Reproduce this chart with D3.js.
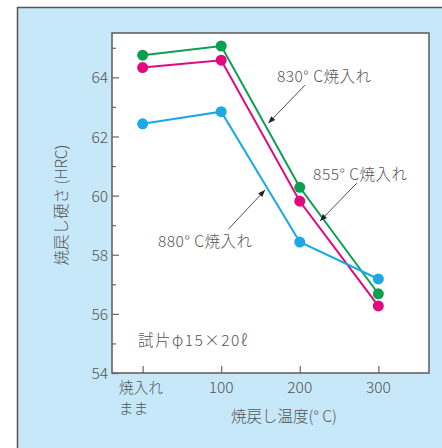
<!DOCTYPE html>
<html>
<head>
<meta charset="utf-8">
<script src="https://cdn.jsdelivr.net/npm/d3@7"></script>
<style>
  html, body { margin: 0; padding: 0; background: #ffffff; }
  svg { display: block; }
  text { font-family: "Noto Sans CJK JP", "Noto Sans", sans-serif; fill: #555; font-weight: 300; }
</style>
</head>
<body>
<svg id="chart" width="442" height="448"></svg>
<script>
// Tempering temperature categories (index positions on the x axis)
const categories = ["焼入れ\nまま", "100", "200", "300"];
const yTicks = [54, 56, 58, 60, 62, 64];
const yMinorTicks = [55, 57, 59, 61, 63, 65];

// Hardness after tempering (HRC) for each quenching temperature
const series830 = [64.75, 65.06, 60.28, 56.68];
const series855 = [64.33, 64.58, 59.81, 56.27];
const series880 = [62.43, 62.84, 58.43, 57.18];

const seriesNames = ["830° C焼入れ", "855° C焼入れ", "880° C焼入れ"];
const seriesColors = ["#0b9f4f", "#e4087f", "#1aa9e5"];

// Callout labels, placed in data units: [textX, textY, arrowFromX, arrowFromY, arrowToX, arrowToY]
const callouts = [
  [1.71, 63.84, 2.067, 63.74, 1.60, 62.45],
  [2.17, 60.53, 2.725, 60.42, 2.258, 59.14],
  [0.196, 58.26, 1.09, 58.86, 1.558, 60.19]
];
const specimenNote = "試片φ15×20ℓ";
const specimenPos = [-0.06, 54.91];

const xTitle = "焼戻し温度(° C)";
const yTitle = "焼戻し硬さ (HRC)";

const svg = d3.select("#chart");

// Outer panel
svg.append("rect")
  .attr("x", 17.5).attr("y", 7.5)
  .attr("width", 430).attr("height", 450)
  .attr("fill", "#c6e8f8")
  .attr("stroke", "#555").attr("stroke-width", 1.5);

const plot = { left: 112, top: 33, right: 429, bottom: 373 };

const x = d3.scaleLinear().domain([-0.39, 3.645]).range([plot.left, plot.right]);
const y = d3.scaleLinear().domain([54, 65.5]).range([plot.bottom, plot.top]);

// Plot area
svg.append("rect")
  .attr("x", plot.left).attr("y", plot.top)
  .attr("width", plot.right - plot.left).attr("height", plot.bottom - plot.top)
  .attr("fill", "#ffffff")
  .attr("stroke", "#5a5a5a").attr("stroke-width", 1.5);

// Y axis: major ticks with labels, inward
const yAxis = d3.axisLeft(y).tickValues(yTicks).tickSize(-7).tickPadding(11).tickFormat(d3.format("d"));
const gy = svg.append("g").attr("transform", `translate(${plot.left},0)`).call(yAxis);
gy.select(".domain").remove();
gy.selectAll(".tick line").attr("stroke", "#666").attr("stroke-width", 1.2);
gy.selectAll(".tick text")
  .style("font-size", "15.5px").attr("fill", "#555")
  .attr("x", -4).attr("dy", "0.36em");

// Y axis minor ticks
const yMinor = d3.axisLeft(y).tickValues(yMinorTicks).tickSize(-4).tickFormat("");
const gym = svg.append("g").attr("transform", `translate(${plot.left},0)`).call(yMinor);
gym.select(".domain").remove();
gym.selectAll(".tick line").attr("stroke", "#666").attr("stroke-width", 1.2);

// X axis
const xAxis = d3.axisBottom(x).tickValues(d3.range(categories.length)).tickSize(-7).tickFormat("");
const gx = svg.append("g").attr("transform", `translate(0,${plot.bottom})`).call(xAxis);
gx.select(".domain").remove();
gx.selectAll(".tick line").attr("stroke", "#666").attr("stroke-width", 1.2);

// X tick labels (first one is two lines, left-aligned under its tick)
categories.forEach((c, i) => {
  const lines = c.split("\n");
  const multi = lines.length > 1;
  lines.forEach((ln, k) => {
    svg.append("text")
      .attr("x", multi ? x(i) - 24 : x(i))
      .attr("y", plot.bottom + 19.5 + k * 21.5)
      .attr("text-anchor", multi ? "start" : "middle")
      .style("font-size", multi ? "14.8px" : "15.5px")
      .text(ln);
  });
});

// Axis titles
svg.append("text")
  .attr("x", 284).attr("y", 422)
  .attr("text-anchor", "middle")
  .style("font-size", "15.5px")
  .text(xTitle);

svg.append("text")
  .attr("transform", "translate(67,205) rotate(-90)")
  .attr("text-anchor", "middle")
  .style("font-size", "15.5px")
  .text(yTitle);

// Series lines and markers
const allSeries = [series830, series855, series880];
const line = d3.line().x((d, i) => x(i)).y(d => y(d));

allSeries.forEach((s, k) => {
  svg.append("path")
    .datum(s)
    .attr("d", line)
    .attr("fill", "none")
    .attr("stroke", seriesColors[k])
    .attr("stroke-width", 2);
});
allSeries.forEach((s, k) => {
  svg.append("g").selectAll("circle")
    .data(s)
    .join("circle")
    .attr("cx", (d, i) => x(i))
    .attr("cy", d => y(d))
    .attr("r", 5.5)
    .attr("fill", seriesColors[k]);
});

// Arrowhead marker
svg.append("defs").append("marker")
  .attr("id", "arrow")
  .attr("viewBox", "0 0 10 10")
  .attr("refX", 10).attr("refY", 5)
  .attr("markerWidth", 9).attr("markerHeight", 7)
  .attr("markerUnits", "userSpaceOnUse")
  .attr("orient", "auto")
  .append("path")
  .attr("d", "M0,1 L10,5 L0,9 Z")
  .attr("fill", "#222");

// Callouts
callouts.forEach((c, k) => {
  svg.append("line")
    .attr("x1", x(c[2])).attr("y1", y(c[3]))
    .attr("x2", x(c[4])).attr("y2", y(c[5]))
    .attr("stroke", "#222").attr("stroke-width", 0.8)
    .attr("marker-end", "url(#arrow)");
  svg.append("text")
    .attr("x", x(c[0])).attr("y", y(c[1]))
    .style("font-size", "15.5px")
    .style("letter-spacing", "0.5px")
    .text(seriesNames[k]);
});

svg.append("text")
  .attr("x", x(specimenPos[0])).attr("y", y(specimenPos[1]))
  .style("font-size", "15.5px")
  .style("letter-spacing", "1.5px")
  .text(specimenNote);
</script>
</body>
</html>
